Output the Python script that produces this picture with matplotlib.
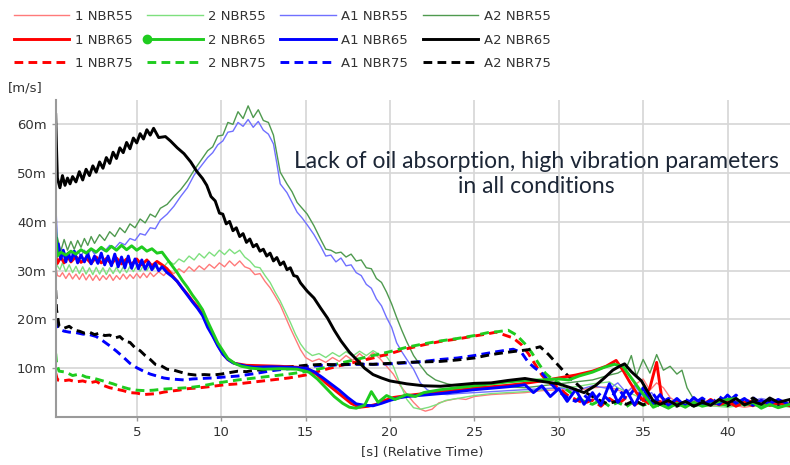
import numpy as np
import matplotlib
matplotlib.use("Agg")
import matplotlib.pyplot as plt
from matplotlib.ticker import FuncFormatter

# velocity readings in mm/s ("m" on the axis), pairs of (time s, value)
nbr55_1 = [(0.2, 31), (0.3, 29), (0.45, 28.8), (0.6, 29.6), (0.8, 28.4), (1.0, 29.5), (1.2, 28.3), (1.4, 29.3),
           (1.6, 28.2), (1.8, 29.4), (2.0, 28.1), (2.2, 29.2), (2.4, 28.0), (2.6, 29.1), (2.8, 28.0), (3.0, 29.0),
           (3.2, 28.2), (3.4, 29.2), (3.6, 28.0), (3.8, 29.0), (4.0, 28.2), (4.2, 29.3), (4.4, 28.3), (4.6, 29.2),
           (4.8, 28.4), (5.0, 29.4), (5.2, 28.5), (5.4, 29.5), (5.6, 28.6), (5.8, 29.6), (6.0, 28.8), (6.3, 29.8),
           (6.6, 29.0), (6.9, 30.2), (7.2, 29.4), (7.5, 30.4), (7.8, 29.6), (8.1, 30.8), (8.4, 29.9), (8.7, 31.0),
           (9.0, 30.2), (9.3, 31.3), (9.6, 30.5), (9.9, 31.6), (10.2, 30.8), (10.5, 32.0), (10.8, 31.0), (11.1, 32.0),
           (11.4, 30.8), (11.7, 30.4), (12.0, 29.2), (12.3, 29.4), (12.6, 27.8), (12.9, 26.5), (13.2, 24.8),
           (13.5, 23.0), (13.8, 20.6), (14.1, 18.2), (14.4, 16.0), (14.7, 13.8), (15.0, 12.2), (15.4, 11.4),
           (15.8, 11.9), (16.2, 11.2), (16.6, 12.2), (17.0, 11.4), (17.4, 12.6), (17.8, 11.6), (18.2, 13.0),
           (18.6, 11.8), (19.0, 13.2), (19.4, 12.0), (19.8, 10.4), (20.2, 8.8), (20.6, 6.5), (21.0, 4.7),
           (21.4, 3.0), (21.8, 1.6), (22.1, 1.2), (22.5, 1.6), (22.9, 2.9), (23.4, 3.4), (24.0, 3.8), (24.5, 3.6),
           (25.0, 4.2), (26.0, 4.6), (27.0, 4.8), (28.0, 5.0), (29.0, 5.4), (30.0, 5.6), (31.0, 5.4), (32.0, 6.0),
           (33.0, 6.2), (33.5, 5.5), (34.0, 5.0), (34.5, 6.6), (35.0, 7.8), (35.4, 5.5), (35.8, 7.0), (36.2, 6.0),
           (36.6, 4.0), (37.0, 3.0), (37.5, 2.4), (38.0, 2.8), (39.0, 2.2), (40.0, 2.6), (41.0, 2.0), (42.0, 2.5),
           (43.0, 2.1), (43.7, 2.4)]

nbr65_1 = [(0.2, 33), (0.3, 31.5), (0.5, 32.8), (0.7, 31.6), (0.9, 33.0), (1.1, 31.8), (1.4, 32.9), (1.7, 31.7),
           (2.0, 32.6), (2.3, 31.5), (2.6, 32.8), (2.9, 31.6), (3.2, 32.5), (3.5, 31.4), (3.8, 32.6), (4.1, 31.4),
           (4.4, 32.4), (4.7, 31.3), (5.0, 32.4), (5.3, 31.2), (5.6, 32.2), (5.9, 31.0), (6.2, 31.9), (6.5, 31.2),
           (6.8, 30.4), (7.1, 29.0), (7.4, 27.8), (7.7, 26.4), (8.0, 25.2), (8.3, 23.8), (8.6, 22.6), (8.9, 21.0),
           (9.2, 18.8), (9.5, 16.8), (9.8, 14.8), (10.1, 13.0), (10.4, 11.8), (10.8, 11.0), (11.5, 10.6),
           (12.5, 10.5), (13.5, 10.4), (14.5, 10.2), (15.2, 9.8), (15.7, 8.6), (16.2, 7.0), (16.7, 5.6),
           (17.2, 4.2), (17.7, 2.8), (18.2, 2.0), (18.7, 2.2), (19.2, 2.6), (19.7, 3.4), (20.2, 4.0), (21.0, 4.4),
           (22.0, 4.8), (23.0, 5.2), (24.0, 5.5), (25.0, 5.9), (26.0, 6.2), (27.0, 6.5), (28.0, 6.9), (29.0, 7.4),
           (30.0, 8.0), (31.0, 8.6), (32.0, 9.4), (32.8, 10.4), (33.4, 11.6), (33.8, 9.6), (34.2, 7.2), (34.6, 5.0),
           (35.0, 3.4), (35.4, 6.0), (35.8, 11.2), (36.1, 4.0), (36.5, 2.6), (37.0, 3.4), (37.5, 2.2), (38.0, 3.0),
           (38.5, 2.4), (39.0, 3.6), (39.5, 2.5), (40.0, 3.2), (40.5, 2.2), (41.0, 3.0), (41.5, 2.3), (42.0, 3.4),
           (42.5, 2.4), (43.0, 2.9), (43.7, 2.3)]

nbr75_1 = [(0.2, 9), (0.3, 7.6), (0.6, 7.4), (1.0, 7.6), (1.4, 7.2), (1.8, 7.4), (2.2, 7.0), (2.6, 7.3), (3.0, 6.5),
           (3.4, 6.0), (3.8, 5.7), (4.2, 5.4), (4.6, 5.0), (5.0, 4.9), (5.4, 4.6), (5.8, 4.7), (6.2, 4.8), (6.6, 5.1),
           (7.0, 5.3), (7.5, 5.5), (8.0, 5.8), (8.75, 6.0), (9.5, 6.3), (10.2, 6.6), (11, 6.8), (12, 7.2), (13, 7.6),
           (14, 8.0), (15, 8.6), (16, 9.6), (17, 10.5), (18, 11.3), (19, 12.1), (20, 13.0), (21, 14.0), (22, 14.8),
           (23, 15.5), (24, 16.0), (25, 16.6), (25.7, 17.0), (26.3, 17.4), (26.8, 16.8), (27.3, 16.2), (27.8, 14.8),
           (28.2, 13.0), (28.6, 10.8), (29.0, 8.6), (29.4, 7.0), (30, 6.0), (30.5, 4.5), (31, 3.6), (31.5, 2.8),
           (32, 3.5), (32.5, 2.2), (33, 3.8), (33.5, 2.6), (34, 4.0), (34.5, 2.5), (35, 3.5), (35.5, 2.4), (36, 3.2),
           (36.5, 2.2), (37, 3.0), (38, 2.4), (39, 3.2), (40, 2.5), (41, 3.5), (42, 2.6), (43, 3.3), (43.7, 2.8)]

nbr55_2 = [(0.2, 37), (0.3, 31), (0.45, 30.2), (0.6, 31.6), (0.8, 29.8), (1.0, 31.2), (1.2, 29.6), (1.4, 30.9),
           (1.6, 29.4), (1.8, 30.8), (2.0, 29.3), (2.2, 30.6), (2.4, 29.2), (2.6, 30.7), (2.8, 29.3), (3.0, 30.6),
           (3.2, 29.2), (3.4, 30.6), (3.6, 29.4), (3.8, 30.7), (4.0, 29.5), (4.2, 30.8), (4.4, 29.6), (4.6, 30.9),
           (4.8, 29.8), (5.0, 31.0), (5.2, 29.9), (5.4, 31.1), (5.6, 30.0), (5.8, 31.2), (6.0, 30.3), (6.3, 31.5),
           (6.6, 30.8), (6.9, 32.0), (7.2, 31.3), (7.5, 32.4), (7.8, 31.8), (8.1, 33.0), (8.4, 32.2), (8.7, 33.5),
           (9.0, 32.6), (9.3, 33.8), (9.6, 33.0), (9.9, 34.2), (10.2, 33.3), (10.5, 34.4), (10.8, 33.5), (11.1, 34.2),
           (11.4, 32.8), (11.7, 32.0), (12.0, 30.8), (12.3, 30.6), (12.6, 29.0), (12.9, 27.6), (13.2, 25.6),
           (13.5, 23.8), (13.8, 21.6), (14.1, 19.4), (14.4, 17.0), (14.7, 15.0), (15.0, 13.6), (15.4, 12.6),
           (15.8, 13.0), (16.2, 12.2), (16.6, 13.2), (17.0, 12.4), (17.4, 13.4), (17.8, 12.5), (18.2, 13.5),
           (18.6, 12.6), (19.0, 13.6), (19.4, 12.8), (19.8, 12.4), (20.2, 10.4), (20.6, 6.8), (21.0, 3.6),
           (21.4, 1.9), (21.8, 1.6), (22.3, 2.0), (22.8, 2.6), (23.3, 3.4), (24.0, 3.8), (25.0, 4.4), (26.0, 4.8),
           (27.0, 5.0), (28.0, 5.2), (29.0, 5.6), (30, 6.0), (31, 6.2), (32, 6.8), (33, 7.2), (33.5, 6.0), (34, 5.2),
           (34.5, 4.5), (35, 3.6), (35.5, 3.0), (36, 2.6), (37, 2.2), (38, 2.8), (39, 2.3), (40, 2.0), (41, 2.5),
           (42, 2.1), (43, 2.4), (43.7, 2.0)]

nbr65_2 = [(0.15, 45), (0.2, 38), (0.3, 33.0), (0.5, 33.8), (0.8, 33.2), (1.1, 34.0), (1.4, 33.4), (1.7, 34.3),
           (2.0, 33.6), (2.3, 34.5), (2.6, 33.8), (2.9, 34.8), (3.2, 34.0), (3.5, 35.0), (3.8, 34.2), (4.1, 35.2),
           (4.4, 34.3), (4.7, 35.1), (5.0, 34.2), (5.3, 34.9), (5.6, 34.0), (5.9, 34.5), (6.2, 33.6), (6.5, 33.8),
           (6.8, 32.4), (7.1, 31.0), (7.4, 29.6), (7.7, 28.0), (8.0, 26.6), (8.3, 25.0), (8.6, 23.6), (8.9, 22.0),
           (9.2, 19.6), (9.5, 17.4), (9.8, 15.2), (10.1, 13.6), (10.4, 12.0), (10.8, 11.0), (11.2, 10.4),
           (11.8, 10.0), (12.5, 9.8), (13.5, 9.9), (14.5, 9.8), (15.2, 9.2), (15.7, 7.8), (16.2, 6.0), (16.7, 4.2),
           (17.2, 2.8), (17.6, 2.0), (18.0, 1.8), (18.5, 2.4), (18.9, 5.2), (19.3, 3.0), (19.8, 4.4), (20.3, 3.6),
           (21.0, 4.6), (21.5, 4.2), (22.0, 5.0), (23.0, 5.6), (24.0, 6.0), (25.0, 6.4), (26.0, 6.8), (27.0, 7.2),
           (28.0, 7.5), (29.0, 7.6), (30.0, 7.8), (30.6, 7.6), (31.2, 8.4), (32.0, 9.2), (32.7, 10.2), (33.3, 10.8),
           (33.8, 10.4), (34.3, 8.0), (34.8, 5.6), (35.3, 3.4), (35.6, 2.0), (36.0, 2.6), (36.5, 1.8), (37.0, 2.8),
           (37.5, 2.0), (38.0, 3.0), (38.5, 2.2), (39.0, 2.6), (39.5, 3.2), (40.0, 3.6), (40.5, 3.8), (41.0, 2.4),
           (41.5, 3.0), (42.0, 1.8), (42.5, 2.6), (43.0, 1.9), (43.7, 2.6)]

nbr75_2 = [(0.2, 13), (0.25, 11), (0.4, 9.4), (0.8, 9.2), (1.2, 8.5), (1.6, 8.8), (2.0, 8.2), (2.4, 8.0), (2.8, 7.6),
           (3.2, 7.2), (3.6, 6.8), (4.0, 6.3), (4.5, 5.8), (5.0, 5.5), (5.5, 5.4), (6.0, 5.5), (6.5, 5.7), (7.0, 5.8),
           (7.5, 5.9), (8.0, 6.0), (8.75, 6.3), (9.5, 6.8), (10.2, 7.2), (11, 7.6), (12, 8.0), (13, 8.4), (14, 8.8),
           (15, 9.3), (16, 10.0), (17, 11.0), (18, 11.8), (19, 12.6), (20, 13.4), (21, 14.3), (22, 15.0), (23, 15.6),
           (24, 16.1), (25, 16.7), (25.8, 17.3), (26.4, 17.5), (27.0, 17.8), (27.5, 16.8), (28.0, 15.0), (28.4, 13.2),
           (28.8, 11.0), (29.2, 9.0), (29.6, 7.8), (30.0, 7.0), (30.5, 5.5), (31, 4.3), (31.5, 3.2), (32, 2.6),
           (32.5, 3.5), (33, 2.2), (33.5, 3.0), (34, 2.1), (34.5, 3.3), (35, 2.4), (35.5, 3.0), (36, 2.2), (37, 3.1),
           (38, 2.3), (39, 3.0), (40, 2.4), (41, 3.2), (42, 2.5), (43, 3.0), (43.7, 2.4)]

nbr55_a1 = [(0.15, 36), (0.2, 33), (0.3, 34.5), (0.5, 32.8), (0.7, 34.0), (0.9, 32.6), (1.1, 33.8), (1.3, 32.8),
            (1.5, 34.0), (1.7, 33.0), (1.9, 34.2), (2.1, 33.2), (2.3, 34.4), (2.5, 33.4), (2.8, 34.6), (3.1, 34.0),
            (3.4, 35.2), (3.7, 34.6), (4.0, 35.8), (4.3, 35.3), (4.6, 36.6), (4.9, 36.2), (5.2, 37.6), (5.5, 37.3),
            (5.8, 38.8), (6.1, 38.6), (6.4, 40.4), (6.8, 41.6), (7.2, 43.2), (7.6, 45.2), (8.0, 47.0), (8.4, 49.6),
            (8.8, 51.4), (9.2, 53.2), (9.5, 54.2), (9.8, 55.8), (10.1, 56.6), (10.4, 58.4), (10.7, 58.6), (11.0, 60.4),
            (11.3, 59.6), (11.6, 61.0), (11.9, 59.4), (12.2, 60.6), (12.5, 58.8), (12.8, 58.0), (13.1, 56.0),
            (13.3, 52.0), (13.5, 47.8), (13.9, 46.0), (14.2, 44.0), (14.5, 42.0), (14.8, 40.8), (15.1, 39.4),
            (15.5, 37.4), (15.9, 35.0), (16.2, 33.0), (16.5, 33.2), (16.8, 31.8), (17.1, 32.6), (17.4, 31.0),
            (17.7, 31.2), (18.0, 29.6), (18.3, 29.0), (18.6, 27.2), (18.9, 26.4), (19.2, 24.2), (19.5, 22.8),
            (19.8, 20.4), (20.1, 18.4), (20.4, 15.2), (20.7, 13.4), (21.0, 11.8), (21.4, 9.8), (21.8, 7.0),
            (22.2, 5.6), (22.7, 4.8), (23.4, 4.6), (24, 4.8), (25, 5.0), (26, 5.2), (27, 5.4), (28, 5.6), (29, 5.8),
            (30, 6.0), (31, 5.4), (32, 6.4), (33, 5.8), (33.5, 7.0), (34, 5.0), (34.5, 6.4), (35, 4.2), (35.5, 5.0),
            (36, 3.0), (37, 2.6), (38, 3.4), (39, 2.8), (40, 3.6), (41, 2.9), (42, 3.8), (43, 3.0), (43.7, 3.5)]

nbr65_a1 = [(0.15, 47), (0.2, 40), (0.25, 33.5), (0.35, 35.5), (0.5, 32.4), (0.65, 34.2), (0.8, 31.8), (0.95, 33.6),
            (1.1, 32.0), (1.3, 34.0), (1.5, 31.6), (1.7, 33.2), (1.9, 31.8), (2.1, 33.5), (2.3, 31.4), (2.5, 33.0),
            (2.7, 31.5), (2.9, 33.6), (3.1, 31.2), (3.3, 33.0), (3.5, 31.0), (3.7, 33.4), (3.9, 30.8), (4.1, 32.8),
            (4.3, 30.6), (4.5, 33.0), (4.7, 30.5), (4.9, 32.4), (5.1, 30.4), (5.3, 32.2), (5.5, 30.3), (5.7, 31.8),
            (5.9, 30.2), (6.1, 31.5), (6.3, 30.0), (6.5, 30.8), (6.8, 29.6), (7.1, 28.8), (7.4, 27.8), (7.7, 26.4),
            (8.0, 25.0), (8.3, 23.6), (8.6, 22.3), (8.9, 20.8), (9.2, 18.4), (9.5, 16.6), (9.8, 14.6), (10.1, 12.9),
            (10.4, 11.8), (10.7, 11.1), (11.0, 10.8), (11.5, 10.4), (12, 10.2), (13, 10.3), (14, 10.2), (15, 10.0),
            (15.5, 9.3), (16, 8.1), (16.5, 6.8), (17, 5.5), (17.5, 4.0), (18, 2.7), (18.5, 2.4), (19, 2.3),
            (19.5, 2.8), (20, 3.4), (20.5, 3.9), (21, 4.2), (22, 4.5), (23, 4.8), (24, 5.2), (25, 5.6), (26, 5.9),
            (27, 6.2), (28, 6.6), (28.5, 5.0), (29, 6.4), (29.5, 4.2), (30, 5.8), (30.5, 3.2), (31, 5.6), (31.5, 2.6),
            (32, 5.0), (32.5, 2.4), (33, 6.8), (33.5, 3.0), (34, 5.5), (34.5, 2.4), (35, 6.0), (35.5, 2.5), (36, 4.6),
            (36.5, 2.3), (37, 3.8), (37.5, 2.2), (38, 4.0), (38.5, 2.5), (39, 3.4), (39.5, 2.6), (40, 4.5), (40.5, 2.8),
            (41, 3.8), (41.5, 2.4), (42, 3.4), (42.5, 2.7), (43, 3.6), (43.7, 2.5)]

nbr75_a1 = [(0.2, 20), (0.25, 19), (0.4, 18), (0.7, 17.6), (1.0, 17.4), (1.4, 17.3), (1.8, 17.0), (2.2, 16.9),
            (2.6, 16.5), (3.0, 15.6), (3.4, 14.6), (3.8, 13.5), (4.2, 12.3), (4.6, 11.0), (5.0, 10.1), (5.4, 9.4),
            (5.8, 8.8), (6.2, 8.4), (6.6, 8.0), (7.0, 7.8), (7.4, 7.7), (7.8, 7.6), (8.3, 7.8), (8.8, 7.9), (9.5, 8.0),
            (10.2, 8.2), (11, 8.4), (12, 8.9), (13, 9.5), (14, 9.9), (15, 10.3), (16, 10.6), (17, 10.7), (18, 10.8),
            (19, 10.8), (20, 10.9), (21, 11.1), (22, 11.4), (23, 11.8), (24, 12.1), (25, 12.6), (26, 13.2),
            (26.7, 13.6), (27.3, 13.9), (27.8, 13.2), (28.2, 11.2), (28.6, 10.0), (29.0, 9.0), (29.5, 7.0),
            (30.0, 5.2), (30.5, 4.0), (31.0, 3.2), (31.5, 4.5), (32, 3.0), (32.5, 5.0), (33, 3.3), (33.5, 6.0),
            (34, 3.6), (34.5, 5.8), (35, 3.0), (35.5, 5.2), (36, 2.8), (36.5, 3.8), (37, 2.5), (37.5, 3.6), (38, 2.7),
            (38.5, 3.9), (39, 2.6), (39.5, 4.2), (40, 3.0), (40.5, 4.5), (41, 3.0), (41.5, 4.0), (42, 2.7),
            (42.5, 3.5), (43, 2.6), (43.7, 3.4)]

nbr55_a2 = [(0.15, 38), (0.2, 35), (0.3, 36.8), (0.5, 34.0), (0.7, 36.4), (0.9, 34.2), (1.1, 36.0), (1.3, 34.4),
            (1.5, 36.2), (1.7, 34.8), (1.9, 36.6), (2.1, 35.2), (2.3, 37.0), (2.5, 35.6), (2.8, 37.4), (3.1, 36.2),
            (3.4, 38.0), (3.7, 37.0), (4.0, 38.8), (4.3, 37.8), (4.6, 39.6), (4.9, 38.8), (5.2, 40.6), (5.5, 39.8),
            (5.8, 41.6), (6.1, 41.0), (6.4, 42.8), (6.8, 43.6), (7.2, 45.2), (7.6, 46.6), (8.0, 48.4), (8.4, 50.6),
            (8.8, 52.6), (9.2, 54.6), (9.5, 55.4), (9.8, 57.6), (10.1, 57.8), (10.4, 60.4), (10.7, 60.0), (11.0, 62.6),
            (11.3, 61.2), (11.6, 63.8), (11.9, 61.4), (12.2, 63.0), (12.5, 60.8), (12.8, 60.4), (13.1, 57.8),
            (13.3, 54.0), (13.5, 50.2), (13.9, 47.8), (14.2, 46.2), (14.5, 44.0), (14.8, 42.8), (15.1, 41.6),
            (15.5, 39.2), (15.9, 36.4), (16.2, 34.4), (16.5, 34.2), (16.8, 33.6), (17.1, 33.8), (17.4, 32.8),
            (17.7, 33.4), (18.0, 32.0), (18.3, 32.2), (18.6, 30.6), (18.9, 30.4), (19.2, 28.4), (19.5, 27.6),
            (19.8, 25.6), (20.1, 23.2), (20.4, 20.4), (20.7, 17.8), (21.0, 15.4), (21.4, 12.6), (21.8, 10.6),
            (22.2, 8.8), (22.7, 7.6), (23.4, 6.8), (24, 6.4), (25, 6.3), (26, 6.2), (27, 6.2), (28, 6.0), (29, 6.4),
            (30, 6.8), (31, 7.2), (32, 7.6), (33, 8.6), (33.5, 9.0), (34, 10.0), (34.3, 12.6), (34.6, 8.4),
            (35.0, 11.8), (35.4, 9.0), (35.8, 12.8), (36.2, 9.6), (36.6, 10.4), (37.0, 8.8), (37.3, 9.6), (37.6, 6.0),
            (38.0, 3.6), (38.5, 2.6), (39, 3.2), (40, 2.4), (41, 3.0), (42, 2.6), (43, 3.2), (43.7, 2.6)]

nbr65_a2 = [(0.2, 62), (0.25, 55), (0.3, 49), (0.45, 47), (0.6, 49.5), (0.75, 47.5), (0.9, 49), (1.05, 47.8),
            (1.2, 49.3), (1.4, 48.2), (1.6, 50.3), (1.8, 48.6), (2.0, 50.8), (2.2, 49.5), (2.4, 51.5), (2.6, 50.2),
            (2.8, 52.3), (3.0, 51), (3.2, 53.2), (3.4, 52), (3.6, 54.3), (3.8, 53), (4.0, 55.2), (4.2, 54.2),
            (4.4, 56.3), (4.6, 55), (4.8, 57.2), (5.0, 56.2), (5.2, 58.1), (5.4, 57), (5.6, 58.9), (5.8, 57.8),
            (6.0, 59.2), (6.3, 57.3), (6.7, 57.5), (7.0, 56.6), (7.4, 55.2), (7.8, 54), (8.2, 52.3), (8.55, 50.4),
            (8.9, 48.9), (9.15, 47.5), (9.4, 45.2), (9.65, 44.3), (9.9, 41.8), (10.1, 41.6), (10.3, 39.6),
            (10.5, 40.1), (10.7, 38.2), (10.9, 38.8), (11.1, 37), (11.3, 37.6), (11.5, 35.8), (11.7, 36.5),
            (11.9, 34.9), (12.1, 35.4), (12.3, 34), (12.5, 34.4), (12.7, 33), (12.9, 33.6), (13.1, 32), (13.3, 32.7),
            (13.5, 31.2), (13.7, 31.8), (13.9, 30.2), (14.1, 30.6), (14.3, 29), (14.5, 28.8), (14.7, 27.5),
            (15.1, 25.8), (15.5, 24.4), (15.9, 22.3), (16.3, 20.3), (16.7, 17.8), (17.1, 15.6), (17.6, 13.3),
            (18.1, 11.5), (18.5, 10.0), (19.0, 8.7), (19.5, 8.0), (20.0, 7.4), (21.0, 6.8), (22.0, 6.4), (23.0, 6.3),
            (24.0, 6.6), (25.0, 6.9), (26.0, 7.0), (27.0, 7.5), (28.0, 7.9), (29.0, 7.3), (30.0, 6.8), (30.7, 6.0),
            (31.5, 5.0), (32.2, 6.5), (32.7, 8.0), (33.2, 9.6), (33.6, 10.4), (33.9, 10.9), (34.3, 9.3), (34.9, 7.4),
            (35.3, 5.0), (35.6, 3.3), (36.0, 2.6), (36.5, 3.4), (37.0, 2.4), (37.5, 3.2), (38.0, 2.2), (38.5, 3.0),
            (39.0, 2.4), (39.5, 3.6), (40.0, 2.8), (40.5, 3.8), (41.0, 2.5), (41.5, 3.2), (42.0, 2.6), (42.5, 3.9),
            (43.0, 3.0), (43.7, 3.6)]

nbr75_a2 = [(0.2, 26), (0.25, 22), (0.4, 18.6), (0.7, 18.2), (1.0, 18.6), (1.3, 17.8), (1.6, 17.6), (1.9, 17.2),
            (2.2, 17.4), (2.5, 16.9), (2.8, 17.2), (3.1, 16.7), (3.4, 16.8), (3.7, 16.2), (4.0, 16.5), (4.3, 15.5),
            (4.6, 15.3), (4.9, 14.2), (5.2, 13.6), (5.5, 12.6), (5.8, 11.8), (6.1, 10.8), (6.4, 10.6), (6.8, 9.8),
            (7.2, 9.6), (7.6, 9.2), (8.0, 8.8), (8.5, 8.6), (9.0, 8.7), (9.5, 8.6), (10, 8.8), (10.5, 9.1), (11, 9.4),
            (11.5, 9.3), (12, 9.6), (12.5, 9.7), (13, 9.9), (13.5, 10.1), (14, 10.3), (14.5, 10.4), (15, 10.6),
            (16, 10.8), (17, 10.7), (18, 10.9), (19, 10.8), (20, 11.0), (21, 11.2), (22, 11.3), (23, 11.4), (24, 11.7),
            (25, 12.1), (26, 12.8), (26.8, 13.2), (27.5, 13.5), (28.2, 13.8), (28.9, 14.4), (29.4, 12.8), (30.0, 10.5),
            (30.5, 8.6), (31.0, 7.0), (31.7, 4.8), (32.3, 3.6), (32.9, 2.7), (33.5, 3.3), (34.0, 2.6), (34.5, 3.4),
            (35, 2.5), (35.5, 3.2), (36, 2.4), (36.5, 3.0), (37, 2.2), (37.5, 3.1), (38, 2.4), (38.5, 3.3), (39, 2.5),
            (39.5, 3.0), (40, 2.3), (40.5, 3.4), (41, 2.6), (41.5, 3.9), (42, 2.8), (42.5, 3.5), (43, 2.6),
            (43.7, 3.2)]

labels = ["1 NBR55", "1 NBR65", "1 NBR75", "2 NBR55", "2 NBR65", "2 NBR75",
          "A1 NBR55", "A1 NBR65", "A1 NBR75", "A2 NBR55", "A2 NBR65", "A2 NBR75"]
series = [nbr55_1, nbr65_1, nbr75_1, nbr55_2, nbr65_2, nbr75_2,
          nbr55_a1, nbr65_a1, nbr75_a1, nbr55_a2, nbr65_a2, nbr75_a2]
colors = ["#ff7a7a", "#ff0000", "#ff0000", "#7ee07e", "#1fcc1f", "#1fcc1f",
          "#7070ff", "#0000ff", "#0000ff", "#4f9a4f", "#000000", "#000000"]

y_ticks = [10, 20, 30, 40, 50, 60]
x_ticks = [5, 10, 15, 20, 25, 30, 35, 40]
note = "Lack of oil absorption, high vibration parameters\nin all conditions"

fig = plt.figure(figsize=(7.9, 4.65), dpi=100)
ax = fig.add_axes([55.7 / 790, 48 / 465, 1 - 55.7 / 790, 317 / 465])

# thin first, then dashed, then the thick solid ones on top
draw_order = [0, 3, 6, 9, 2, 5, 8, 11, 1, 7, 4, 10]
lines = {}
for i in draw_order:
    t, v = zip(*series[i])
    kind = labels[i][-2:]
    if kind == "55":
        ln, = ax.plot(t, v, color=colors[i], lw=1.0)
    elif kind == "65":
        ln, = ax.plot(t, v, color=colors[i], lw=2.1)
    else:
        ln, = ax.plot(t, v, color=colors[i], lw=2.1, dashes=(3, 1.8))
    lines[i] = ln

ax.set_xlim(0.2, 43.7)
ax.set_ylim(0, 65)
ax.set_xticks(x_ticks)
ax.set_yticks(y_ticks)
ax.yaxis.set_major_formatter(FuncFormatter(lambda v, p: f"{v:.0f}m"))
ax.grid(True, color="#d6d6d6", lw=1.2)
ax.set_axisbelow(True)
for s in ["top", "right"]:
    ax.spines[s].set_visible(False)
for s in ["left", "bottom"]:
    ax.spines[s].set_color("#9a9a9a")
    ax.spines[s].set_linewidth(1.5)
ax.tick_params(axis="both", colors="#9a9a9a", labelcolor="#333333", labelsize=9.5, length=3, width=1)

leg = fig.legend([lines[i] for i in range(12)], labels, ncol=4, loc="upper left",
                 bbox_to_anchor=(14 / 790, 1 - 10 / 465), frameon=False, fontsize=9.5,
                 handlelength=4.2, handletextpad=0.42, columnspacing=1.1, labelspacing=0.8,
                 borderpad=0, borderaxespad=0)
for txt in leg.get_texts():
    txt.set_color("#333333")
dot = leg.legend_handles[4]
dot.set_marker("o")
dot.set_markersize(6)
dot.set_markevery([0])

fig.text(8 / 790, 1 - 88 / 465, "[m/s]", fontsize=9.5, color="#333333", va="center")
fig.text(422 / 790, 1 - 452 / 465, "[s] (Relative Time)", fontsize=9.5, color="#333333",
         ha="center", va="center")
fig.text(536 / 790, 1 - 174 / 465, note, fontsize=16.5, family="Lato", color="#1c2636",
         ha="center", va="center", linespacing=1.2)

fig.savefig("out.png", dpi=100)
